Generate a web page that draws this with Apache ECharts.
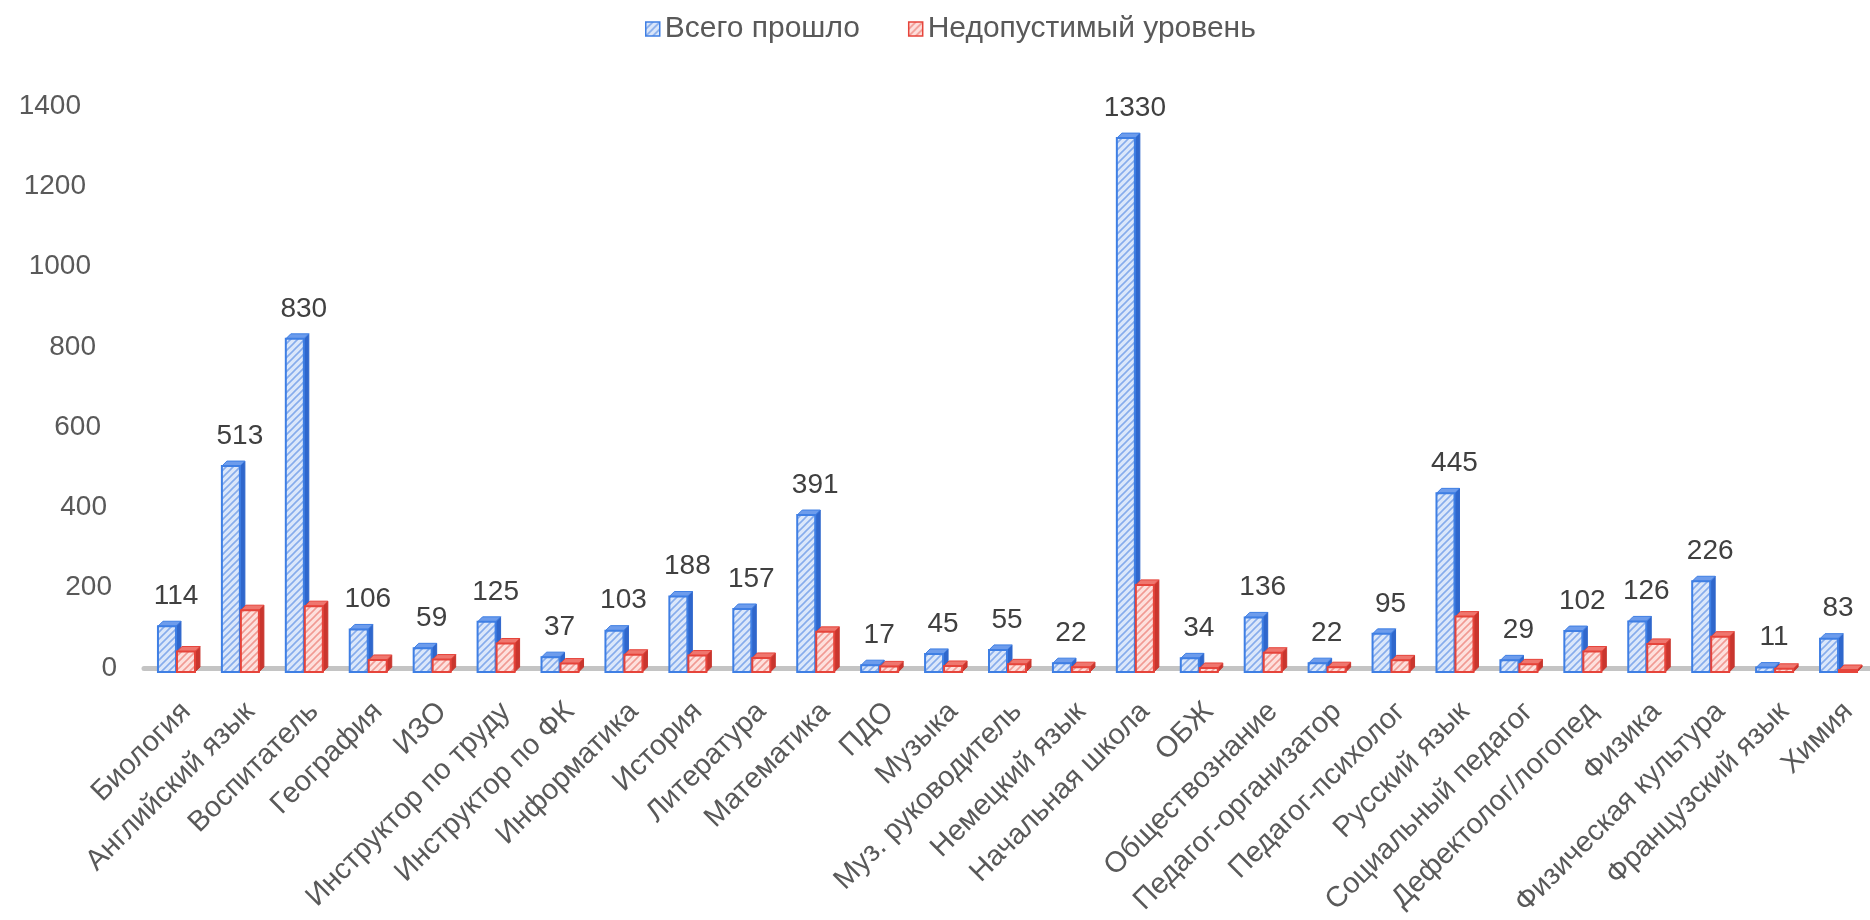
<!DOCTYPE html>
<html>
<head>
<meta charset="utf-8">
<script src="https://cdn.jsdelivr.net/npm/echarts@6/dist/echarts.min.js"></script>
<style>
html,body{margin:0;padding:0;background:#fff;}
#chart{width:1870px;height:920px;}
</style>
</head>
<body>
<div id="chart"></div>
<script>
var categories = ["Биология","Английский язык","Воспитатель","География","ИЗО","Инструктор по труду","Инструктор по ФК","Информатика","История","Литература","Математика","ПДО","Музыка","Муз. руководитель","Немецкий язык","Начальная школа","ОБЖ","Обществознание","Педагог-организатор","Педагог-психолог","Русский язык","Социальный педагог","Дефектолог/логопед","Физика","Физическая культура","Французский язык","Химия"];
var totalValues = [114,513,830,106,59,125,37,103,188,157,391,17,45,55,22,1330,34,136,22,95,445,29,102,126,226,11,83];
var badValues = [51,154,164,30,31,71,21,43,41,35,100,14,15,19,12,217,10,48,12,29,138,19,51,70,88,8,4];
var yTicks = [0,200,400,600,800,1000,1200,1400];
var seriesNames = ["Всего прошло","Недопустимый уровень"];

var FONT = "'Liberation Sans', Arial, sans-serif";

function makePattern(bg, line){
  var c = document.createElement('canvas');
  c.width = 7; c.height = 7;
  var g = c.getContext('2d');
  g.fillStyle = bg; g.fillRect(0,0,7,7);
  g.strokeStyle = line; g.lineWidth = 1.6;
  g.beginPath();
  g.moveTo(-1,8); g.lineTo(8,-1);
  g.moveTo(-4,4); g.lineTo(4,-4);
  g.moveTo(3,11); g.lineTo(11,3);
  g.stroke();
  return {image:c, repeat:'repeat'};
}

var styles = [
  {pattern:makePattern('#dbe7fa','#86acec'), border:'#3f7fe4', side:'#2f67cc', top:'#6d9cec'},
  {pattern:makePattern('#fde0dd','#f19a93'), border:'#e6443b', side:'#c9362e', top:'#ef766e'}
];

var rich = {};
yTicks.forEach(function(v){
  rich['p'+v] = {padding:[0, Math.round(v*0.026), 0, 0], fontSize:28, color:'#595959', fontFamily:FONT};
});

function makeRender(si, showLabel){
  var st = styles[si];
  return function(params, api){
    var cat = api.value(0), val = api.value(1);
    var p0 = api.coord([cat, 0]);
    var p1 = api.coord([cat, val]);
    var w = 18, d = 5;
    var x = si === 0 ? p0[0] - w : p0[0] + 1;
    var yBase = p0[1] + 4;
    var yTop = p1[1] + 4;
    if (yTop > yBase - 2) yTop = yBase - 2;
    var h = yBase - yTop;
    var children = [
      {type:'polygon', shape:{points:[[x+w,yTop],[x+w+d,yTop-d],[x+w+d,yBase-d],[x+w,yBase]]},
        style:{fill:st.side, stroke:st.side, lineWidth:1}},
      {type:'polygon', shape:{points:[[x,yTop],[x+d,yTop-d],[x+w+d,yTop-d],[x+w,yTop]]},
        style:{fill:st.top, stroke:st.border, lineWidth:1}},
      {type:'rect', shape:{x:x, y:yTop, width:w, height:h},
        style:{fill:st.pattern, stroke:st.border, lineWidth:2}}
    ];
    if (showLabel) {
      children.push({type:'text', style:{text:String(val), x:p0[0], y:p1[1]-12,
        align:'center', verticalAlign:'bottom', fontSize:28, fill:'#404040', fontFamily:FONT}});
    }
    return {type:'group', children:children};
  };
}

var chart = echarts.init(document.getElementById('chart'));
chart.setOption({
  animation:false,
  textStyle:{fontFamily:FONT},
  legend:{
    top:9, left:640, itemWidth:14, itemHeight:14, itemGap:48, icon:'rect',
    textStyle:{fontSize:30, color:'#595959', fontFamily:FONT},
    data:[
      {name:seriesNames[0], itemStyle:{color:styles[0].pattern, borderColor:styles[0].border, borderWidth:1.5}},
      {name:seriesNames[1], itemStyle:{color:styles[1].pattern, borderColor:styles[1].border, borderWidth:1.5}}
    ]
  },
  grid:{left:144, top:106, width:1742, bottom:232, containLabel:false},
  xAxis:{
    type:'category', data:categories,
    axisLine:{show:true, lineStyle:{color:'#c4c4c4', width:5}},
    axisTick:{show:false},
    axisLabel:{rotate:45, interval:0, fontSize:29, color:'#595959', margin:29, verticalAlign:'top', fontFamily:FONT}
  },
  yAxis:{
    type:'value', min:0, max:1400, interval:200,
    splitLine:{show:false}, axisLine:{show:false}, axisTick:{show:false},
    axisLabel:{margin:27, formatter:function(v){return '{p'+v+'|'+v+'}';}, rich:rich}
  },
  series:[
    {
      name:seriesNames[0], type:'custom', renderItem:makeRender(0, true),
      encode:{x:0, y:1},
      itemStyle:{color:styles[0].pattern, borderColor:styles[0].border},
      data:totalValues.map(function(v,i){return [i,v];})
    },
    {
      name:seriesNames[1], type:'custom', renderItem:makeRender(1, false),
      encode:{x:0, y:1},
      itemStyle:{color:styles[1].pattern, borderColor:styles[1].border},
      data:badValues.map(function(v,i){return [i,v];})
    }
  ]
});
</script>
</body>
</html>
